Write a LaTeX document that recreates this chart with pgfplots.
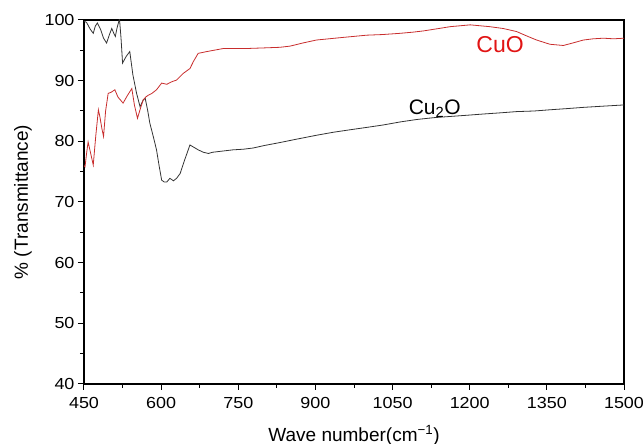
\documentclass[border=0pt]{standalone}
\usepackage{pgfplots}
\pgfplotsset{compat=1.18}
\usepackage{fontspec}
\setmainfont{Liberation Sans}
\newfontfamily\tickfont[FakeStretch=1.12]{Liberation Sans}
\definecolor{cuoline}{RGB}{200,45,45}
\definecolor{cuotext}{RGB}{225,20,20}
\begin{document}
\begin{tikzpicture}
\useasboundingbox (-84pt,-60pt) rectangle (559pt,384pt);
\begin{axis}[
  at={(0,0)}, anchor=south west,
  scale only axis, width=540pt, height=364pt,
  xmin=450, xmax=1500, ymin=40, ymax=100,
  xtick={450,600,...,1500}, ytick={40,50,...,100},
  minor x tick num=1, minor y tick num=1,
  tick align=outside, tick pos=left,
  major tick length=6pt, minor tick length=4pt,
  axis line style={line width=1.3pt}, every tick/.style={line width=1pt, black},
  /pgf/number format/assume math mode=true,
  /pgf/number format/1000 sep={},
  ticklabel style={font=\tickfont\fontsize{16}{18}\selectfont},
  xticklabel style={yshift=-4pt},
  xlabel={Wave number(cm\textsuperscript{−1})},
  ylabel={\% (Transmittance)},
  label style={font=\fontsize{19}{22}\selectfont},
  xlabel style={yshift=-10pt},
  ylabel style={yshift=6pt},
  clip=true,
]
\addplot[black!80, line width=0.8pt] coordinates {
(450,99.8)(455,99.6)(462,98.5)(468,97.8)(472,99.0)(476,99.5)(482,98.5)(488,97.0)(494,96.2)(499,97.5)(504,98.6)(508,97.8)(511,97.3)(514,98.6)(519,100.2)(522,97)(525,92.9)(532,94.0)(539,94.8)(545,91)(552,88)(559,85.7)(565,86.8)(569,87.1)(574,85)(578,83.0)(585,80.7)(591,78.6)(596,76)(601,73.6)(606,73.3)(611,73.3)(617,73.9)(624,73.5)(630,73.9)(637,74.7)(646,77)(656,79.4)(664,79.0)(672,78.6)(682,78.2)(692,78.0)(700,78.2)(720,78.4)(740,78.6)(760,78.7)(779,78.9)(800,79.3)(831,79.8)(860,80.3)(902,81.0)(935,81.5)(967,81.9)(1000,82.3)(1032,82.7)(1065,83.2)(1097,83.6)(1130,83.9)(1162,84.1)(1195,84.3)(1226,84.5)(1260,84.7)(1291,84.9)(1325,85.0)(1356,85.2)(1390,85.4)(1421,85.6)(1460,85.8)(1500,86.0)
};
\addplot[cuoline, line width=0.8pt] coordinates {
(450,76.0)(452,75.8)(455,78)(458,79.9)(463,78)(468,76.1)(473,81)(478,85.2)(481,84.0)(485,82)(488,80.8)(492,85)(497,87.9)(503,88.1)(510,88.5)(516,87.3)(521,86.8)(526,86.3)(534,87.5)(543,88.7)(548,86)(554,83.8)(560,85.5)(565,86.8)(570,87.3)(575,87.6)(582,87.9)(591,88.5)(601,89.6)(611,89.4)(620,89.8)(630,90.1)(643,91.2)(656,92.0)(663,93.2)(672,94.5)(689,94.8)(721,95.3)(766,95.3)(800,95.4)(831,95.5)(851,95.7)(875,96.2)(902,96.7)(950,97.1)(1000,97.5)(1030,97.6)(1064,97.8)(1090,98.0)(1110,98.2)(1140,98.6)(1162,98.9)(1201,99.2)(1239,98.9)(1265,98.6)(1291,98.1)(1310,97.4)(1330,96.7)(1356,96.0)(1382,95.8)(1400,96.2)(1421,96.7)(1440,96.9)(1460,97.0)(1480,96.9)(1500,97.0)
};
\node[text=cuotext, font=\fontsize{23}{26}\selectfont] at (axis cs:1259,95.9) {CuO};
\node[text=black, font=\fontsize{21}{24}\selectfont] at (axis cs:1132,85.4) {Cu\textsubscript{2}O};
\end{axis}
\end{tikzpicture}
\end{document}
